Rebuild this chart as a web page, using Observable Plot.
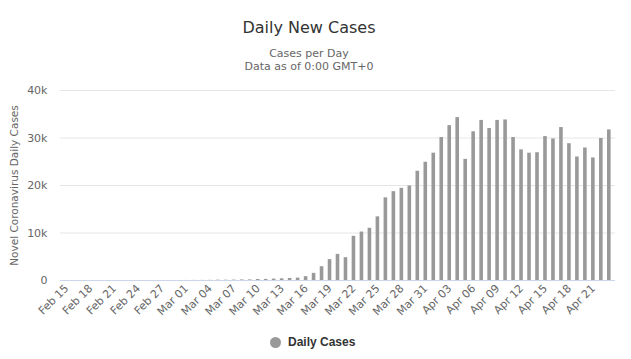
<!DOCTYPE html>
<html>
<head>
<meta charset="utf-8">
<script src="https://cdn.jsdelivr.net/npm/d3@7"></script>
<script src="https://cdn.jsdelivr.net/npm/@observablehq/plot@0.6"></script>
<style>
  html, body { margin: 0; padding: 0; background: #fff; }
  body { width: 631px; height: 359px; position: relative; overflow: hidden; font-family: "DejaVu Sans", sans-serif; }
  #title { position: absolute; left: 0; width: 618px; top: 19px; text-align: center; font-size: 16px; color: #333; line-height: 18px; }
  #subtitle { position: absolute; left: 0; width: 618px; top: 48px; text-align: center; font-size: 11px; color: #666; line-height: 12.5px; }
  #chart { position: absolute; left: 0; top: 80px; }
  #legend { position: absolute; top: 335px; left: 270px; font-family: "Liberation Sans", Arial, sans-serif; font-size: 12px; font-weight: bold; color: #333; display: flex; align-items: center; }
  #legend span.dot { display: inline-block; width: 11px; height: 11px; border-radius: 50%; background: #999; margin-right: 7px; }
</style>
</head>
<body>
<div id="title">Daily New Cases</div>
<div id="subtitle">Cases per Day<br>Data as of 0:00 GMT+0</div>
<div id="chart"></div>
<div id="legend"><span class="dot"></span>Daily Cases</div>
<script>
// Daily new cases, Feb 15 – Apr 23 (2020)
const startDate = new Date(Date.UTC(2020, 1, 15));
const endDate = new Date(Date.UTC(2020, 3, 24));

const febCases = [0, 0, 0, 0, 0, 0, 0, 0, 0, 0, 1, 0, 0, 1, 1];
const marCases = [10, 20, 20, 30, 70, 60, 80, 120, 130, 210, 230, 290, 350, 430, 500,
  800, 1500, 2900, 4400, 5500, 4800, 9300, 10200, 11000, 13400, 17400, 18700, 19400, 19900, 23000, 24900];
const aprCases = [26800, 30100, 32600, 34300, 25500, 31300, 33700, 32000, 33700, 33800, 30100,
  27500, 26800, 26900, 30300, 29800, 32200, 28800, 26000, 27900, 25800, 29900, 31700];

const yTicks = [0, 10000, 20000, 30000, 40000];

const dates = d3.utcDay.range(startDate, endDate);
const labels = dates.map(d3.utcFormat("%b %d"));
const cases = [...febCases, ...marCases, ...aprCases];
const data = labels.map((d, i) => ({date: d, cases: cases[i]}));
const xTicks = labels.filter((d, i) => i % 3 === 0);

const chart = Plot.plot({
  width: 631,
  height: 250,
  marginTop: 10,
  marginBottom: 50,
  marginLeft: 60,
  marginRight: 16,
  style: {fontFamily: "DejaVu Sans, sans-serif", fontSize: "11px", color: "#666", background: "white", overflow: "visible"},
  x: {domain: labels, padding: 0.55, label: null},
  y: {domain: [0, 40000], label: null},
  marks: [
    Plot.gridY(yTicks.slice(1), {stroke: "#e6e6e6", strokeOpacity: 1}),
    Plot.barY(data, {x: "date", y: "cases", fill: "#999"}),
    Plot.ruleY([0], {stroke: "#ccd6eb"}),
    Plot.axisY({
      ticks: yTicks, tickSize: 0, tickPadding: 13,
      tickFormat: d => d === 0 ? "0" : d / 1000 + "k",
      fontSize: 11
    }),
    Plot.axisY({
      ticks: [], tickSize: 0,
      label: "Novel Coronavirus Daily Cases", labelAnchor: "center", labelArrow: "none", labelOffset: 50,
      fontSize: 10.5
    }),
    Plot.axisX({ticks: xTicks, tickSize: 0, tickRotate: -45, tickPadding: 6, label: null, fontSize: 11})
  ]
});
document.getElementById("chart").appendChild(chart);
</script>
</body>
</html>
